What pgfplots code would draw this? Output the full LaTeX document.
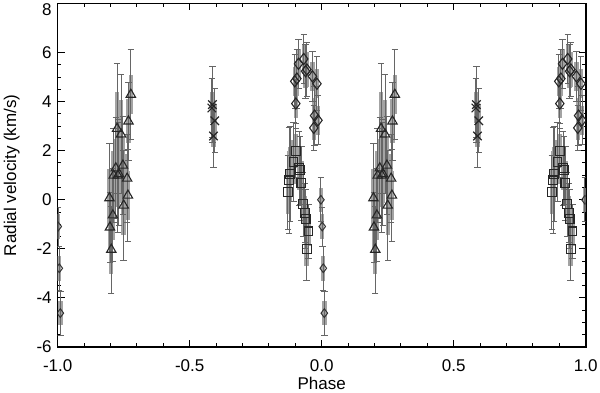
\documentclass[border=0pt]{standalone}
\usepackage{pgfplots}
\pgfplotsset{compat=1.18}
\usepackage{pgfplotstable}
\usepackage{fontspec}
\setmainfont{Liberation Sans}

% phase, velocity, outer error, inner error
\pgfplotstableread{
p v e eb
0.277 4.29 1.83 0.80
0.268 3.20 1.60 0.90
0.225 2.90 2.65 1.50
0.240 2.67 2.43 1.40
0.220 1.29 2.05 1.20
0.247 1.40 2.00 1.10
0.232 1.05 2.10 1.20
0.212 0.99 1.90 1.00
0.228 0.99 2.30 1.30
0.263 0.87 1.80 1.00
0.196 0.07 2.23 1.20
0.266 0.18 1.86 1.00
0.250 -0.23 2.26 1.20
0.209 -0.63 1.90 1.00
0.198 -1.12 1.44 0.90
0.203 -2.03 1.77 1.00
}\tri

\pgfplotstableread{
p v e eb
0.586 3.88 1.54 0.50
0.584 3.74 1.20 0.60
0.595 3.22 1.30 0.70
0.590 2.60 1.30 0.45
}\crs

\pgfplotstableread{
p v e eb
0.932 5.74 1.00 0.60
0.912 5.54 1.00 0.60
0.944 5.31 1.10 0.70
0.939 5.24 1.10 0.70
0.906 4.94 1.20 0.70
0.898 4.83 1.10 0.60
0.965 5.03 1.00 0.60
0.982 4.73 1.10 0.60
0.902 3.92 1.00 0.60
0.973 3.43 1.20 0.70
0.986 3.24 1.00 0.60
0.970 2.93 0.90 0.50
}\dia

\pgfplotstableread{
p v e eb
0.902 2.00 1.10 0.70
0.893 1.54 1.60 0.90
0.914 1.29 1.50 0.90
0.918 1.20 1.40 0.80
0.880 1.06 1.95 1.10
0.876 0.79 2.15 1.20
0.923 0.68 1.50 0.90
0.872 0.31 1.50 0.90
0.929 -0.18 1.30 0.80
0.936 -0.54 1.20 0.70
0.939 -0.79 1.20 0.70
0.950 -1.29 1.10 0.60
0.943 -2.00 1.28 0.70
}\sq

\pgfplotstableread{
p v e eb
0.997 0.00 0.90 0.50
0.002 -1.09 0.80 0.50
0.006 -2.79 0.90 0.50
0.010 -4.62 0.90 0.50
}\dz

% thick inner bars, thin outer bars with caps, then the symbols; each at phase and phase-1
\pgfplotsset{
  thickbar/.style={draw=none, mark=none, forget plot, error bars/.cd, y dir=both, y explicit,
    error mark=none, error bar style={line width=2.2pt, draw=black!36}},
  thinbar/.style={only marks, forget plot, error bars/.cd, y dir=both, y explicit,
    error bar style={line width=0.45pt, draw=black!60},
    error mark options={rotate=90, mark size=1.6pt, draw=black!60}},
}
\newcommand{\series}[3]{%
  \addplot[thickbar] table[x=p, y=v, y error=eb] {#1};
  \addplot[thickbar] table[x expr=\thisrow{p}-1, y=v, y error=eb] {#1};
  \addplot[mark=#2, mark options={#3}, thinbar] table[x=p, y=v, y error=e] {#1};
  \addplot[mark=#2, mark options={#3}, thinbar] table[x expr=\thisrow{p}-1, y=v, y error=e] {#1};
}

\begin{document}
\fontsize{8.5}{10}\selectfont
\begin{tikzpicture}
\begin{axis}[
  width=264pt, height=171.75pt, scale only axis,
  xmin=-1, xmax=1, ymin=-6, ymax=8,
  xtick={-1,-0.5,0,0.5,1}, ytick={-6,-4,...,6},
  extra y ticks={8}, extra y tick style={yticklabel style={yshift=-3.2pt}},
  minor x tick num=4, minor y tick num=3,
  /pgf/number format/assume math mode=true,
  tick label style={font=\fontsize{8.5}{10}\selectfont},
  xticklabel style={/pgf/number format/fixed, /pgf/number format/fixed zerofill,
    /pgf/number format/precision=1, anchor=center, yshift=-9.45pt},
  major tick length=3.5pt, minor tick length=1.8pt,
  tick style={black, line width=0.5pt},
  axis line style={line width=0.8pt},
  xlabel={Phase}, ylabel={Radial velocity (km/s)},
  label style={font=\fontsize{8.5}{10}\selectfont},
  xlabel style={at={(axis description cs:0.5,0)}, anchor=center, yshift=-18pt},
  ylabel style={at={(axis description cs:-0.0871,0.5)}, anchor=center},
  clip marker paths=true,
]
\series{\tri}{triangle}{mark size=2.7pt, line width=0.55pt, draw=black!85, fill=none}
\series{\crs}{x}{mark size=3pt, line width=0.6pt, draw=black!85, fill=none}
\series{\sq}{square}{mark size=2.2pt, line width=0.55pt, draw=black!85, fill=none}
\series{\dia}{diamond}{mark size=2.8pt, line width=0.55pt, draw=black!85, fill=none}
\series{\dz}{diamond}{mark size=2.2pt, line width=0.5pt, draw=black!80, fill=none}
\end{axis}
\pgfresetboundingbox
\path[use as bounding box] ([xshift=-28.85pt, yshift=-22.5pt]current axis.south west)
  rectangle ([xshift=7.15pt, yshift=1.75pt]current axis.north east);
\end{tikzpicture}
\end{document}
